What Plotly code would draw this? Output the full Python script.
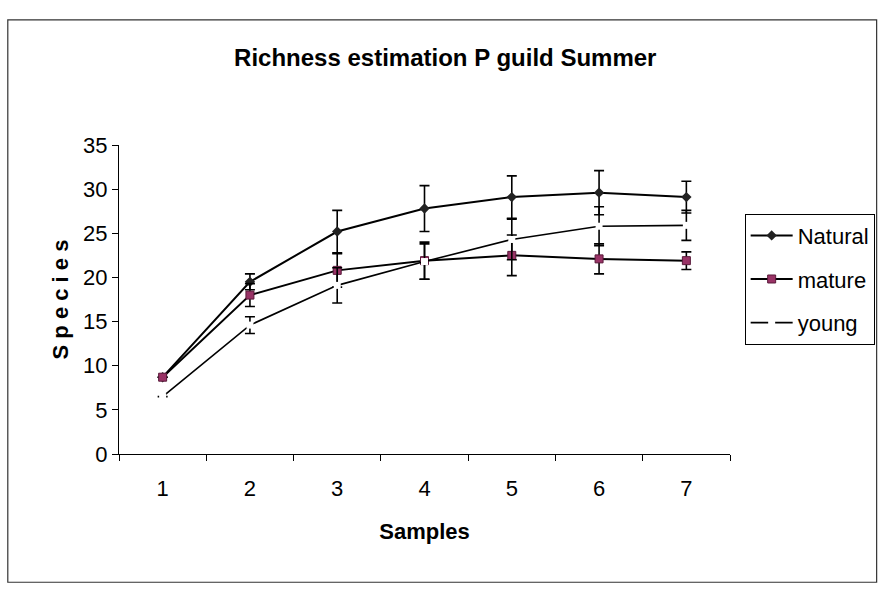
import plotly.graph_objects as go

# Sample index on the x axis
samples = [1, 2, 3, 4, 5, 6, 7]
sample_labels = ["1", "2", "3", "4", "5", "6", "7"]

# Estimated species richness per habitat and its error (+/-)
natural = [8.7, 19.5, 25.2, 27.8, 29.1, 29.6, 29.1]
natural_err = [0.0, 0.9, 2.4, 2.6, 2.4, 2.5, 1.8]

mature = [8.7, 18.0, 20.8, 21.9, 22.5, 22.1, 21.9]
mature_err = [0.0, 1.3, 1.9, 2.1, 2.3, 1.7, 1.0]

young = [6.5, 14.6, 19.1, 21.8, 24.3, 25.8, 25.9]
young_err = [0.0, 0.95, 2.0, 2.0, 2.3, 2.2, 1.7]

y_ticks = [0, 5, 10, 15, 20, 25, 30, 35]

FONT = "Liberation Sans, Arial, sans-serif"

fig = go.Figure()

fig.add_trace(go.Scatter(
    x=samples, y=natural, name="Natural", legendgroup="a",
    mode="lines+markers",
    line=dict(color="black", width=2),
    marker=dict(symbol="diamond", size=8, color="#222222"),
    error_y=dict(type="data", array=natural_err, visible=True,
                 color="black", thickness=1.6, width=5),
))

fig.add_trace(go.Scatter(
    x=samples, y=mature, name="mature", legendgroup="b",
    mode="lines+markers",
    line=dict(color="black", width=2),
    marker=dict(symbol="square", size=8, color="#993366",
                line=dict(color="#5a1a3a", width=1)),
    error_y=dict(type="data", array=mature_err, visible=True,
                 color="black", thickness=1.6, width=5),
))

fig.add_trace(go.Scatter(
    x=samples, y=young, name="young", legendgroup="c",
    mode="lines+markers",
    line=dict(color="black", width=1.6),
    marker=dict(symbol="square", size=7, color="white",
                line=dict(width=0)),
    error_y=dict(type="data", array=young_err, visible=True,
                 color="black", thickness=1.6, width=5),
))

fig.update_layout(
    width=880, height=597,
    paper_bgcolor="white", plot_bgcolor="white",
    margin=dict(l=119, r=150, t=145, b=143, autoexpand=False),
    font=dict(family=FONT, size=20, color="black"),
    title=dict(
        text="<b>Richness estimation P guild Summer</b>",
        x=0.534, xref="paper", xanchor="center",
        y=0.903, yref="container", yanchor="middle",
        font=dict(family=FONT, size=24, color="black"),
    ),
    showlegend=True,
    legend=dict(
        x=1.024, xanchor="left", y=0.778, yanchor="top",
        bgcolor="white", bordercolor="black", borderwidth=1,
        font=dict(family=FONT, size=22, color="black"),
        tracegroupgap=12, traceorder="grouped", itemwidth=42,
    ),
    shapes=[dict(
        type="rect", xref="paper", yref="paper",
        x0=-0.182, x1=1.24, y0=-0.415, y1=1.405,
        line=dict(color="#333333", width=1.2),
    )],
)

fig.update_xaxes(
    range=[0.5, 7.5],
    tickmode="array", tickvals=samples, ticktext=sample_labels,
    ticks="", showline=True, linecolor="black", linewidth=1.3,
    showgrid=False, zeroline=False,
    ticklabelstandoff=14,
    tickfont=dict(family=FONT, size=22),
    minor=dict(tickmode="linear", tick0=0.5, dtick=1, ticks="outside",
               ticklen=6, tickcolor="black", tickwidth=1.2, showgrid=False),
    title=dict(text="<b>Samples</b>", standoff=24,
               font=dict(family=FONT, size=22)),
)

fig.update_yaxes(
    range=[0, 35],
    tickmode="array", tickvals=y_ticks,
    ticks="outside", ticklen=6, tickcolor="black", tickwidth=1.2,
    showline=True, linecolor="black", linewidth=1.3,
    showgrid=False, zeroline=False,
    tickfont=dict(family=FONT, size=22),
    title=dict(text="<b>S p e c i e s</b>", standoff=8,
               font=dict(family=FONT, size=22)),
)

fig.write_html("out.html")
